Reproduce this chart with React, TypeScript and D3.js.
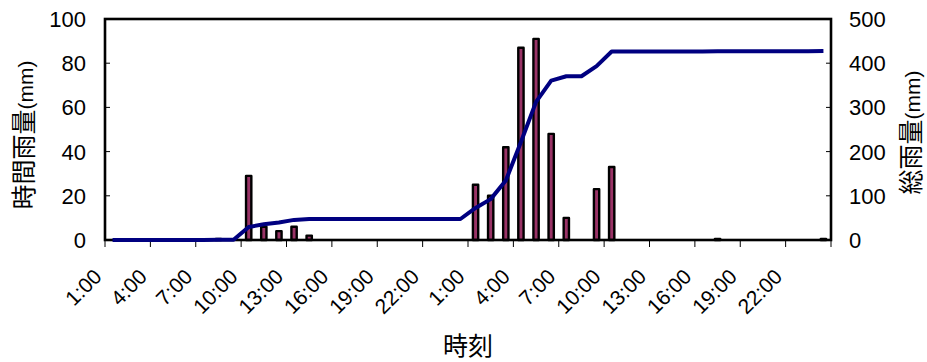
import React from "react";
import * as d3 from "d3";

// Hourly time slots over two days (1:00 .. 24:00, then 1:00 .. 24:00)
const hours: string[] = [
  "1:00", "2:00", "3:00", "4:00", "5:00", "6:00", "7:00", "8:00", "9:00", "10:00", "11:00", "12:00",
  "13:00", "14:00", "15:00", "16:00", "17:00", "18:00", "19:00", "20:00", "21:00", "22:00", "23:00", "24:00",
  "1:00", "2:00", "3:00", "4:00", "5:00", "6:00", "7:00", "8:00", "9:00", "10:00", "11:00", "12:00",
  "13:00", "14:00", "15:00", "16:00", "17:00", "18:00", "19:00", "20:00", "21:00", "22:00", "23:00", "24:00",
];

// Hourly rainfall (mm)
const hourly: number[] = [
  0, 0, 0, 0, 0, 0, 0, 0.5, 0, 29, 6, 4,
  6, 2, 0, 0, 0, 0, 0, 0, 0, 0, 0, 0,
  25, 20, 42, 87, 91, 48, 10, 0, 23, 33, 0, 0,
  0, 0, 0, 0, 0.5, 0, 0, 0, 0, 0, 0, 0.5,
];

// Accumulated rainfall (mm)
const total: number[] = [
  0, 0, 0, 0, 0, 0, 0, 0.5, 0.5, 29.5, 35.5, 39.5,
  45.5, 47.5, 47.5, 47.5, 47.5, 47.5, 47.5, 47.5, 47.5, 47.5, 47.5, 47.5,
  72.5, 92.5, 134.5, 221.5, 312.5, 360.5, 370.5, 370.5, 393.5, 426.5, 426.5, 426.5,
  426.5, 426.5, 426.5, 426.5, 427, 427, 427, 427, 427, 427, 427, 427.5,
];

const leftTicks: number[] = [0, 20, 40, 60, 80, 100];
const rightTicks: number[] = [0, 100, 200, 300, 400, 500];

const leftTitle = { jp: "時間雨量", unit: "(mm)" };
const rightTitle = { jp: "総雨量", unit: "(mm)" };
const xTitle = "時刻";

const W = 927;
const H = 362;
const plot = { left: 105, right: 831, top: 19, bottom: 240 };
const latin = "'Liberation Sans', Arial, sans-serif";
const cjk = "'Noto Sans CJK JP', 'Noto Sans', sans-serif";

export default function App() {
  const idx = hours.map((_, i) => i);
  const x = d3.scaleBand<number>().domain(idx).range([plot.left, plot.right]).padding(0);
  const yL = d3.scaleLinear().domain([0, 100]).range([plot.bottom, plot.top]);
  const yR = d3.scaleLinear().domain([0, 500]).range([plot.bottom, plot.top]);
  const bw = x.bandwidth();
  const barW = 5.3;

  const line = d3
    .line<number>()
    .x((_, i) => (x(i) as number) + bw / 2)
    .y((d) => yR(d));

  const tickIdx = idx.filter((i) => i % 3 === 0);
  const boundaryX = (i: number) => (i >= hours.length ? plot.right : (x(i) as number));

  return (
    <svg
      width={W}
      height={H}
      style={{ position: "absolute", left: 0, top: 0, background: "#fff" }}
    >
      <rect x={0} y={0} width={W} height={H} fill="#fff" />

      {/* bars */}
      {hourly.map((v, i) =>
        v > 0 ? (
          <rect
            key={"b" + i}
            x={(x(i) as number) + bw / 2 - barW / 2}
            y={yL(v)}
            width={barW}
            height={yL(0) - yL(v)}
            fill="#993366"
            stroke="#000"
            strokeWidth={2.4}
            strokeLinejoin="round"
          />
        ) : null
      )}

      {/* plot frame */}
      <rect
        x={plot.left}
        y={plot.top}
        width={plot.right - plot.left}
        height={plot.bottom - plot.top}
        fill="none"
        stroke="#000"
        strokeWidth={2.6}
      />

      {/* left ticks + labels */}
      {leftTicks.map((t) => (
        <g key={"l" + t}>
          <line x1={plot.left} x2={plot.left + 5} y1={yL(t)} y2={yL(t)} stroke="#000" strokeWidth={1} />
          <text
            x={86}
            y={yL(t) + 7.9}
            textAnchor="end"
            fontFamily={latin}
            fontSize={22}
            fill="#000"
          >
            {t}
          </text>
        </g>
      ))}

      {/* right ticks + labels */}
      {rightTicks.map((t) => (
        <g key={"r" + t}>
          <line x1={plot.right - 5} x2={plot.right} y1={yR(t)} y2={yR(t)} stroke="#000" strokeWidth={1} />
          <text
            x={849}
            y={yR(t) + 7.9}
            textAnchor="start"
            fontFamily={latin}
            fontSize={22}
            fill="#000"
          >
            {t}
          </text>
        </g>
      ))}

      {/* x ticks */}
      {[...tickIdx, hours.length].map((i) => (
        <line
          key={"xt" + i}
          x1={boundaryX(i)}
          x2={boundaryX(i)}
          y1={plot.bottom}
          y2={plot.bottom + 7}
          stroke="#000"
          strokeWidth={1}
        />
      ))}

      {/* x labels */}
      {tickIdx.map((i) => {
        const tx = boundaryX(i) - 2;
        const ty = 278;
        return (
          <text
            key={"xl" + i}
            transform={`translate(${tx},${ty}) rotate(-45)`}
            textAnchor="end"
            fontFamily={latin}
            fontSize={21}
            fill="#000"
          >
            {hours[i]}
          </text>
        );
      })}

      {/* accumulated line */}
      <path d={line(total) || ""} fill="none" stroke="#000080" strokeWidth={4} strokeLinejoin="round" />

      {/* axis titles */}
      <text transform="translate(24,135) rotate(-90)" textAnchor="middle" y={9.3} fill="#000">
        <tspan fontFamily={cjk} fontSize={25}>{leftTitle.jp}</tspan>
        <tspan fontFamily={latin} fontSize={21}>{leftTitle.unit}</tspan>
      </text>
      <text transform="translate(911,132.5) rotate(-90)" textAnchor="middle" y={9.3} fill="#000">
        <tspan fontFamily={cjk} fontSize={25}>{rightTitle.jp}</tspan>
        <tspan fontFamily={latin} fontSize={21}>{rightTitle.unit}</tspan>
      </text>
      <text x={468} y={355} textAnchor="middle" fontFamily={cjk} fontSize={25} fill="#000">
        {xTitle}
      </text>
    </svg>
  );
}
